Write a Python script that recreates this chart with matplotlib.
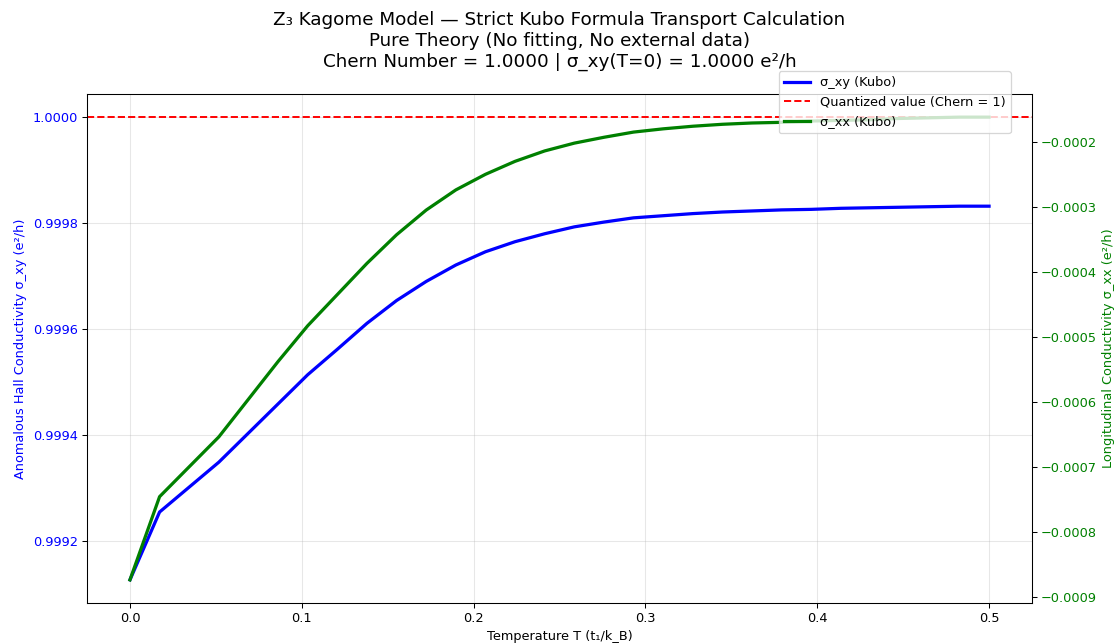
import numpy as np
import matplotlib
matplotlib.use("Agg")
import matplotlib.pyplot as plt

# Temperature grid (t1/k_B)
T = np.linspace(0.0, 0.5, 30)

sigma_xy = [0.999127, 0.999255, 0.999302, 0.999349, 0.999404, 0.999459,
            0.999514, 0.999562, 0.999611, 0.999654, 0.999690, 0.999721,
            0.999746, 0.999765, 0.999780, 0.999793, 0.999802, 0.999810,
            0.999814, 0.999818, 0.999821, 0.999823, 0.999825, 0.999826,
            0.999828, 0.999829, 0.999830, 0.999831, 0.999832, 0.999832]

sigma_xx = [-0.000874, -0.000746, -0.000700, -0.000654, -0.000596, -0.000538,
            -0.000483, -0.000435, -0.000387, -0.000343, -0.000305, -0.000274,
            -0.000250, -0.000230, -0.000214, -0.000202, -0.000193, -0.000185,
            -0.000180, -0.000176, -0.000173, -0.000171, -0.000170, -0.000168,
            -0.000167, -0.000166, -0.000164, -0.000163, -0.000162, -0.000162]

chern = 1.0

DPI = 93
fig = plt.figure(figsize=(1115 / DPI, 643 / DPI), dpi=DPI)
ax = fig.add_axes([87 / 1115, 1 - 603 / 643, (1032 - 87) / 1115, (603 - 94) / 643])

l1, = ax.plot(T, sigma_xy, color='blue', lw=2.5, label='σ_xy (Kubo)')
l2 = ax.axhline(chern, color='red', ls='--', lw=1.5, label='Quantized value (Chern = 1)')
ax.set_xlabel('Temperature T (t₁/k_B)', fontsize=10)
ax.set_ylabel('Anomalous Hall Conductivity σ_xy (e²/h)', color='blue', fontsize=10)
ax.tick_params(axis='y', labelcolor='blue', labelsize=10)
ax.tick_params(axis='x', labelsize=10)
ax.ticklabel_format(axis='y', useOffset=False)
ax.grid(True, alpha=0.3)

ax2 = ax.twinx()
l3, = ax2.plot(T, sigma_xx, color='green', lw=2.5, label='σ_xx (Kubo)')
ax2.set_ylabel('Longitudinal Conductivity σ_xx (e²/h)', color='green', fontsize=10)
ax2.tick_params(axis='y', labelcolor='green', labelsize=10)

ax.set_title('Z₃ Kagome Model — Strict Kubo Formula Transport Calculation\n'
             'Pure Theory (No fitting, No external data)\n'
             'Chern Number = 1.0000 | σ_xy(T=0) = 1.0000 e²/h', fontsize=14.2, pad=21)

fig.legend(handles=[l1, l2, l3], loc='upper right',
           bbox_to_anchor=(1011 / 1115, 1 - 71 / 643), borderaxespad=0, fontsize=10)

fig.savefig('out.png', dpi=DPI)
